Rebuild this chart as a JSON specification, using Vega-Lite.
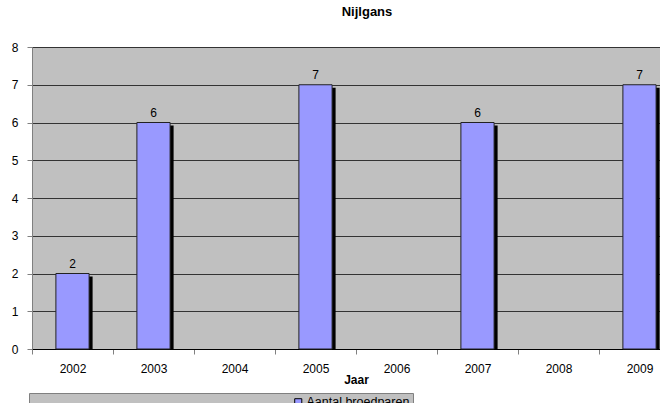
{
  "$schema": "https://vega.github.io/schema/vega-lite/v6.json",
  "autosize": {"type": "none"},
  "padding": {"left": 32, "top": 47, "right": 0, "bottom": 54},
  "width": 648,
  "height": 302,
  "background": "white",
  "title": {"text": "Nijlgans", "fontSize": 13, "font": "Liberation Sans", "fontWeight": "bold", "anchor": "middle", "dx": 11, "offset": 22, "color": "black"},
  "config": {
    "font": "Liberation Sans",
    "view": {"fill": "#c0c0c0", "stroke": "#808080"}
  },
  "data": {"values": [
    {"Jaar": "2002", "Aantal": 2},
    {"Jaar": "2003", "Aantal": 6},
    {"Jaar": "2005", "Aantal": 7},
    {"Jaar": "2007", "Aantal": 6},
    {"Jaar": "2009", "Aantal": 7}
  ]},
  "encoding": {
    "x": {"field": "Jaar", "type": "nominal",
      "scale": {"domain": ["2002","2003","2004","2005","2006","2007","2008","2009"], "paddingInner": 0, "paddingOuter": 0},
      "axis": {"labelAngle": 0, "labelFontSize": 12, "labelColor": "black", "labelPadding": 9,
        "tickBand": "extent", "ticks": true, "tickColor": "#808080", "tickSize": 5, "domainColor": "black",
        "title": "Jaar", "titleFontSize": 12, "titleFontWeight": "bold", "titleColor": "black", "titlePadding": 0}},
    "y": {"field": "Aantal", "type": "quantitative",
      "scale": {"domain": [0, 8], "nice": false},
      "axis": {"values": [0,1,2,3,4,5,6,7,8], "grid": true, "gridColor": "#333333", "gridWidth": 1,
        "labelFontSize": 12, "labelColor": "black", "labelPadding": 9, "tickColor": "#808080", "tickSize": 5,
        "domainColor": "#808080", "title": null}}
  },
  "layer": [
    {"mark": {"type": "bar", "color": "black", "xOffset": 3.5, "yOffset": 3, "clip": true, "width": {"band": 0.41}}},
    {"mark": {"type": "bar", "stroke": "#222222", "strokeWidth": 1, "width": {"band": 0.41}},
      "encoding": {"color": {"datum": "Aantal broedparen", "type": "nominal",
        "scale": {"range": ["#9999ff"]},
        "legend": {"title": null, "orient": "none", "legendX": -3, "legendY": 346,
          "fillColor": "#c0c0c0", "strokeColor": "#808080", "padding": 3,
          "symbolType": "square", "symbolSize": 50, "symbolStrokeColor": "black", "symbolStrokeWidth": 1,
          "symbolOffset": 260, "labelFontSize": 12.5, "labelColor": "black", "labelOffset": 2}}}},
    {"mark": {"type": "text", "dy": -10, "fontSize": 12, "color": "black"},
      "encoding": {"text": {"field": "Aantal", "type": "quantitative"}}}
  ]
}
